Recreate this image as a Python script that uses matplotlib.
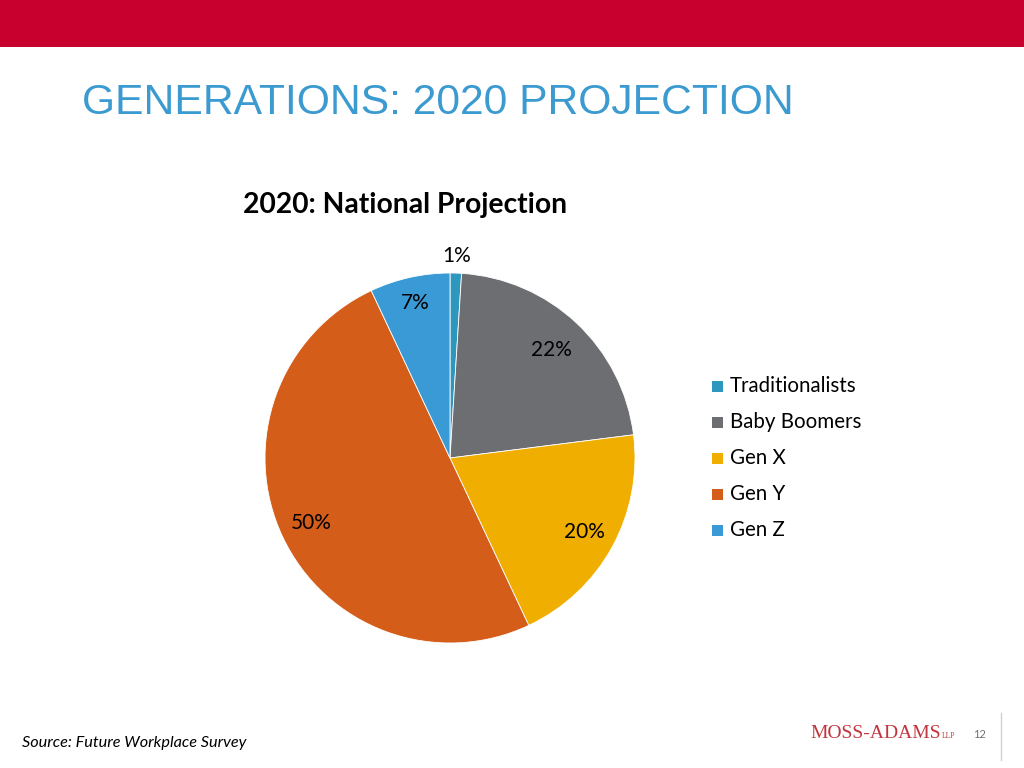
import numpy as np
import matplotlib.pyplot as plt
from matplotlib.patches import Rectangle
from matplotlib.lines import Line2D

# data
categories = ["Traditionalists", "Baby Boomers", "Gen X", "Gen Y", "Gen Z"]
shares = [1, 22, 20, 50, 7]
colors = ["#2E97BE", "#6D6E71", "#F0AE00", "#D45D1A", "#3A9AD6"]
label_radius = [1.09, 0.80, 0.83, 0.83, 0.86]

W, H = 1024, 768
fig = plt.figure(figsize=(W / 100, H / 100), dpi=100)
fig.patch.set_facecolor("white")

# red banner
fig.add_artist(Rectangle((0, 1 - 47 / H), 1, 47 / H, transform=fig.transFigure,
                         facecolor="#C8002D", edgecolor="none"))

# slide title
fig.text(82 / W, 1 - 103 / H, "GENERATIONS: 2020 PROJECTION", fontsize=30.7,
         family="Liberation Sans", color="#3B9AD0", va="center", ha="left")

# chart title
fig.text(405 / W, 1 - 205 / H, "2020: National Projection", fontsize=20.3,
         family="Lato", weight="bold", color="black", ha="center", va="center")

# pie axes: center (450, 458), radius 185 px
half = 200
ax = fig.add_axes([(450 - half) / W, 1 - (458 + half) / H, 2 * half / W, 2 * half / H])
wedges, _ = ax.pie(shares, colors=colors, startangle=90, counterclock=False,
                   wedgeprops=dict(linewidth=0.6, edgecolor="white"))
lim = half / 185
ax.set_xlim(-lim, lim)
ax.set_ylim(-lim, lim)
ax.set_aspect("equal")
ax.axis("off")

for w, val, r in zip(wedges, shares, label_radius):
    ang = np.deg2rad((w.theta1 + w.theta2) / 2)
    ax.text(r * np.cos(ang), r * np.sin(ang), f"{val}%", fontsize=15,
            family="Lato", ha="center", va="center", color="black")

# legend
for i, (cat, col) in enumerate(zip(categories, colors)):
    y = 386 + 36 * i
    fig.add_artist(Rectangle((712 / W, 1 - (y + 6) / H), 11 / W, 11 / H,
                             transform=fig.transFigure, facecolor=col, edgecolor="none"))
    fig.text(730 / W, 1 - y / H, cat, fontsize=14.8, family="Lato",
             ha="left", va="center", color="black")

# footer
fig.text(22 / W, 1 - 743 / H, "Source: Future Workplace Survey", fontsize=11.7,
         family="Lato", style="italic", ha="left", va="center", color="black")
fig.text(810 / W, 1 - 733 / H, "MOSS-ADAMS", fontsize=14, family="Liberation Serif",
         color="#C0363F", ha="left", va="center")
fig.text(942 / W, 1 - 736 / H, "LLP", fontsize=5.5, family="Liberation Serif",
         color="#C0363F", ha="left", va="center")
fig.text(979 / W, 1 - 734 / H, "12", fontsize=8, family="Lato",
         color="#707070", ha="center", va="center")
fig.add_artist(Line2D([1001 / W, 1001 / W], [1 - 760 / H, 1 - 713 / H],
                      transform=fig.transFigure, color="#D0D0D0", linewidth=1))

fig.savefig("out.png", dpi=100)
